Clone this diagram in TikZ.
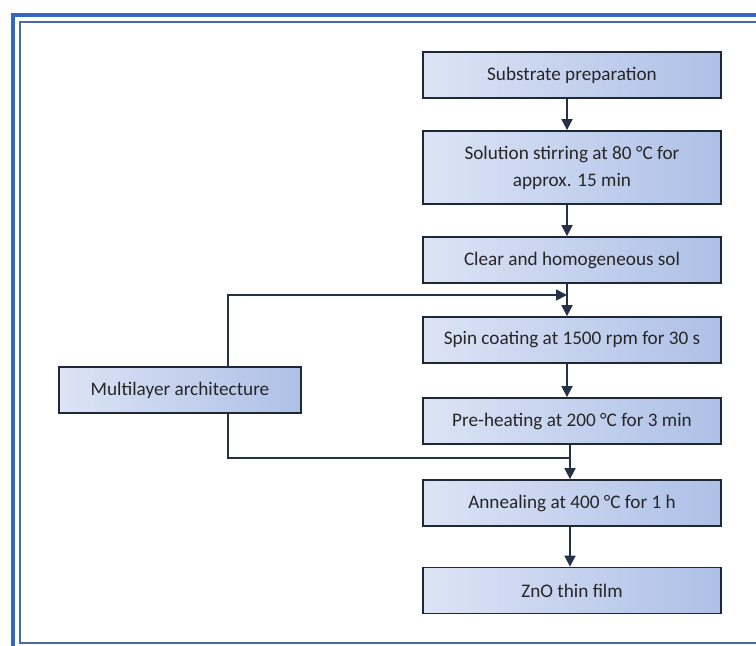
\documentclass[tikz,border=0pt]{standalone}
\usepackage{fontspec}
\setmainfont{Carlito}
\usetikzlibrary{arrows.meta}
\definecolor{framebl}{HTML}{3567C2}
\definecolor{frameinner}{HTML}{4A6BA0}
\definecolor{boxline}{HTML}{1F2836}
\definecolor{boxlight}{HTML}{DCE4F5}
\definecolor{boxdark}{HTML}{AEC0E7}
\definecolor{arr}{HTML}{243247}
\tikzset{
  stepbox/.style={draw=boxline, line width=1.8pt, left color=boxlight, right color=boxdark,
    minimum width=298pt, minimum height=46pt, align=center, font=\fontsize{19.2}{27}\selectfont,
    inner sep=0pt, text=black!85},
  flow/.style={draw=arr, line width=1.8pt, -{Triangle[length=11pt,width=11pt]}},
  loopline/.style={draw=arr, line width=1.8pt},
}
\begin{document}
\begin{tikzpicture}[x=1pt,y=-1pt]
\useasboundingbox (0,0) rectangle (756,646);
% frame
\draw[framebl, line width=4.5pt] (13,646) -- (13,15) -- (756,15);
\draw[frameinner, line width=1.8pt] (756,22) -- (20,22) -- (20,643) -- (756,643);
% nodes
\node[stepbox] (b1) at (572,75) {Substrate preparation};
\node[stepbox, minimum height=73pt] (b2) at (572,167.5) {Solution stirring at 80 °C for\\approx. 15 min};
\node[stepbox] (b3) at (572,260) {Clear and homogeneous sol};
\node[stepbox] (b4) at (572,340) {Spin coating at 1500 rpm for 30 s};
\node[stepbox] (b5) at (572,421) {Pre-heating at 200 °C for 3 min};
\node[stepbox] (b6) at (572,503) {Annealing at 400 °C for 1 h};
\node[stepbox] (b7) at (572,590.5) {ZnO thin film};
\node[stepbox, minimum width=242pt] (ml) at (180,390) {Multilayer architecture};
\coordinate (ax) at (567,0);
\coordinate (ax2) at (570,0);
\coordinate (lx) at (228,0);
\coordinate (top) at (0,295);
\coordinate (bot) at (0,458);
% connectors
\draw[flow] (b1.south -| ax) -- (b2.north -| ax);
\draw[flow] (b2.south -| ax) -- (b3.north -| ax);
\draw[flow] (b3.south -| ax) -- (b4.north -| ax);
\draw[flow] (b4.south -| ax) -- (b5.north -| ax);
\draw[flow] (b5.south -| ax2) -- (b6.north -| ax2);
\draw[flow] (b6.south -| ax2) -- (b7.north -| ax2);
\draw[flow] (ml.north -| lx) -- (top -| lx) -- (top -| ax);
\draw[loopline] (ml.south -| lx) -- (bot -| lx) -- (bot -| ax2);
\end{tikzpicture}
\end{document}
